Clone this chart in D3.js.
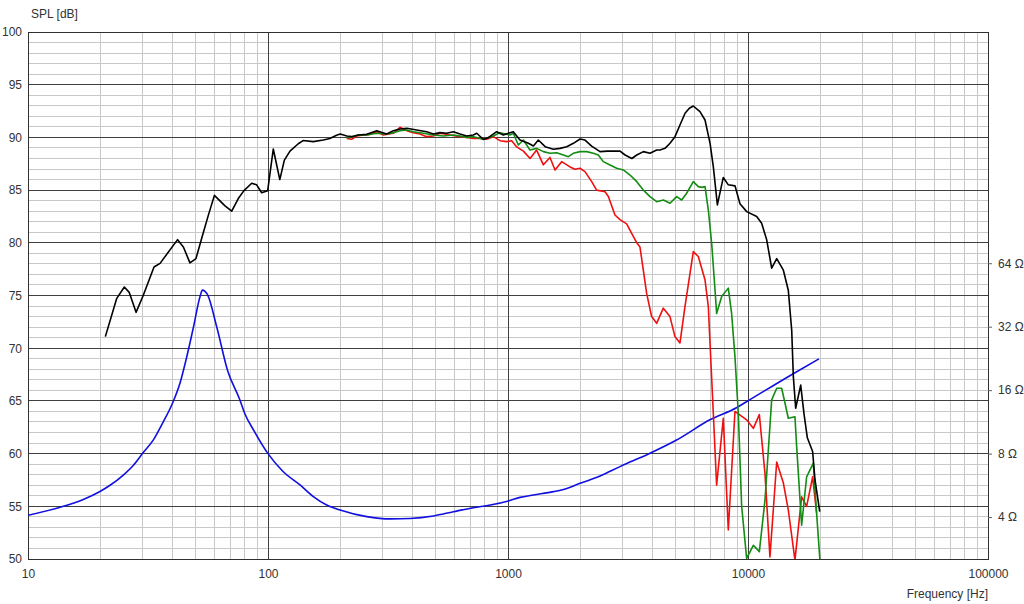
<!DOCTYPE html>
<html><head><meta charset="utf-8">
<script src="https://cdn.jsdelivr.net/npm/d3@7"></script>
<style>
body{margin:0;background:#fff;}
svg text{font-family:"Liberation Sans",Arial,sans-serif;font-size:12px;fill:#333;}
</style>
</head><body>
<svg id="chart" width="1024" height="604"></svg>
<script>
// ---------- data ----------
const splTicks = [50,55,60,65,70,75,80,85,90,95,100];
const freqTicks = [10,100,1000,10000,100000];
const impTicks = [4,8,16,32,64];

const blackFreq = [21,23.4,25.2,26.4,28.2,30.2,33.5,35.5,42,44.4,47.3,50.1,52.9,56.4,59.8,66.2,70.6,75.2,79.4,85.5,89.7,94.1,99.7,105.2,112,117,123.5,133.7,140,154.4,170,181,193,200,213,223,238,258,284,312,333,355,379,416,458,489,521,555,592,631,673,717,741,790,828,897,956,1004,1052,1122,1216,1276,1338,1428,1546,1647,1757,1873,1996,2094,2231,2418,2600,2930,3075,3280,3440,3665,3905,4164,4300,4510,4732,4963,5207,5466,5696,5917,6307,6621,6950,7171,7454,7890,8280,8830,9258,9877,10870,11400,11960,12550,13170,14040,14720,15210,15450,15800,16580,17110,17670,18590,19020,19900];
const blackSPL = [71.1,74.7,75.8,75.3,73.4,75.0,77.7,78.05,80.3,79.6,78.1,78.5,80.4,82.6,84.5,83.5,83.0,84.2,84.95,85.65,85.5,84.75,84.95,88.9,86.0,87.85,88.7,89.4,89.7,89.6,89.75,89.9,90.2,90.32,90.13,90.07,90.23,90.29,90.64,90.32,90.64,90.8,90.86,90.7,90.54,90.32,90.45,90.39,90.54,90.32,90.13,90.23,90.39,89.8,89.98,90.54,90.23,90.39,90.54,89.75,89.44,89.18,89.75,89.12,88.87,88.96,89.12,89.44,89.85,89.75,89.18,88.65,88.7,88.7,88.33,88.0,88.33,88.65,88.5,88.8,88.8,88.96,89.44,90.07,91.18,92.29,92.76,92.98,92.44,91.65,89.44,87.2,83.6,86.2,85.5,85.4,83.7,82.96,82.5,81.85,80.3,77.6,78.5,77.4,75.5,71.7,67.3,64.3,66.5,63.8,61.5,60.2,57.5,54.5];

const redFreq = [212.8,223,234,249.7,266,283.6,302.6,332.6,355,378.5,403,430,458,488.6,521,573.5,631,673,717,765,815,869,926,987,1036,1087,1159,1236,1316,1404,1496,1570,1673,1813,1902,1995,2093,2232,2340,2537,2619,2791,2929,3122,3276,3440,3547,3782,3967,4162,4437,4730,4962,5207,5462,5917,6207,6618,6834,7170,7400,7890,8278,8823,9871,10524,11150,11770,12343,13170,14040,14720,15690,16730,17550,18590,19305];
const redSPL = [89.91,89.82,90.13,90.23,90.29,90.54,90.23,90.39,90.96,90.64,90.45,90.32,90.07,90.13,90.39,90.23,90.07,90.0,89.91,89.91,89.82,90.07,89.69,89.6,89.69,89.1,88.7,88.0,88.8,87.4,88.1,86.9,87.7,87.2,86.97,87.07,86.75,85.8,85.0,84.85,84.4,82.64,82.2,81.8,80.9,80.0,79.6,75.2,73.0,72.36,73.8,73.0,71.1,70.5,73.94,79.16,78.7,76.5,73.94,63.8,57.0,63.35,52.75,64.0,63.2,62.4,63.7,58.1,50.2,59.2,57.2,54.65,49.9,55.9,55.0,57.8,54.4];

const greenFreq = [212.8,223,238,257.8,283.6,312,332.6,355,378.5,403,444,488.6,538,592,631,673,717,790,869,926,1020,1052,1104,1159,1235,1316,1404,1496,1595,1701,1784,1871,1995,2128,2268,2379,2494,2661,2837,3024,3224,3440,3664,3906,4164,4442,4732,5045,5291,5550,5917,6209,6411,6621,6835,7057,7289,7400,7768,8278,8545,8823,9112,9410,9871,10524,11150,11770,12550,13170,13810,14260,14720,15690,15950,16730,17550,18710,19305,19940];
const greenSPL = [89.91,90.07,90.23,90.23,90.39,90.32,90.45,90.64,90.7,90.54,90.39,90.23,90.13,90.23,90.13,90.0,90.07,89.82,90.13,90.45,90.23,90.39,89.28,89.75,88.81,88.96,88.65,88.49,88.55,88.33,88.17,88.49,88.65,88.65,88.49,88.33,87.7,87.38,87.07,86.91,86.43,85.8,85.0,84.38,83.9,84.06,83.75,84.38,84.06,84.7,85.8,85.33,85.26,85.33,83.1,79.95,75.5,73.3,74.9,75.7,73.3,69.2,63.8,55.0,50.06,51.3,50.7,55.6,65.1,66.2,66.2,64.8,63.35,63.5,60.66,53.2,57.8,59.1,54.4,49.9];

const impFreq = [10,13.6,17,19.95,21.97,24.95,27.5,30.2,33.3,36.6,39.7,43,45.9,48.9,52.1,53.3,55.9,61.2,67.8,76.3,80,87.7,100,115.5,136,154.5,175.6,199.6,257.8,323.8,390.8,488.6,592,717,844,1004,1122,1276,1546,1757,1996,2418,2930,3905,5040,6968,8950,9860,15500,19750];
const impOhm = [4.08,4.45,4.85,5.29,5.66,6.33,7.05,8.09,9.29,11.3,13.6,17.3,23.1,31.8,44.5,47.7,45.5,31.8,19.9,14.4,12.4,10.2,8.0,6.58,5.68,5.00,4.56,4.32,4.02,3.92,3.94,4.05,4.24,4.43,4.56,4.77,4.96,5.09,5.28,5.47,5.78,6.26,6.94,8.03,9.28,11.6,13.2,14.1,19.2,22.5];

// ---------- layout ----------
const L = 28, R = 988, T = 32, B = 559;
const svg = d3.select("#chart");

const x = d3.scaleLog().domain([10,100000]).range([L,R]);
const y = d3.scaleLinear().domain([50,100]).range([B,T]);
// impedance axis: 8 ohm at 60 dB, 6.02 dB per doubling
const yImp = d3.scaleLog().domain([8*Math.pow(10,-0.5), 800]).range([B,T]);

svg.append("defs").append("clipPath").attr("id","plot")
  .append("rect").attr("x",L).attr("y",T).attr("width",R-L).attr("height",B-T);

// minor grid
const minorX = x.ticks().filter(v => freqTicks.indexOf(v) < 0);
svg.append("g").selectAll("line").data(minorX).join("line")
  .attr("x1",d=>x(d)).attr("x2",d=>x(d)).attr("y1",T).attr("y2",B)
  .attr("stroke","#c8c8c8").attr("stroke-width",1).attr("shape-rendering","crispEdges");
const minorY = d3.range(50,101,1).filter(v => v%5 !== 0);
svg.append("g").selectAll("line").data(minorY).join("line")
  .attr("x1",L).attr("x2",R).attr("y1",d=>y(d)).attr("y2",d=>y(d))
  .attr("stroke","#c8c8c8").attr("stroke-width",1).attr("shape-rendering","crispEdges");

// major grid
svg.append("g").selectAll("line").data(freqTicks).join("line")
  .attr("x1",d=>x(d)).attr("x2",d=>x(d)).attr("y1",T).attr("y2",B)
  .attr("stroke","#404040").attr("stroke-width",1).attr("shape-rendering","crispEdges");
svg.append("g").selectAll("line").data(splTicks).join("line")
  .attr("x1",L).attr("x2",R).attr("y1",d=>y(d)).attr("y2",d=>y(d))
  .attr("stroke","#404040").attr("stroke-width",1).attr("shape-rendering","crispEdges");

// frame
svg.append("rect").attr("x",L).attr("y",T).attr("width",R-L).attr("height",B-T)
  .attr("fill","none").attr("stroke","#303030").attr("stroke-width",1).attr("shape-rendering","crispEdges");

// axes labels using d3 axes
const yAxis = svg.append("g").attr("transform",`translate(${L},0)`)
  .call(d3.axisLeft(y).tickValues(splTicks).tickSize(0).tickPadding(6).tickFormat(d3.format("d")));
yAxis.select(".domain").remove();

const xAxis = svg.append("g").attr("transform",`translate(0,${B})`)
  .call(d3.axisBottom(x).tickValues(freqTicks).tickSize(0).tickPadding(10).tickFormat(d3.format("d")));
xAxis.select(".domain").remove();

const rAxis = svg.append("g").attr("transform",`translate(${R},0)`)
  .call(d3.axisRight(yImp).tickValues(impTicks).tickSize(4).tickPadding(6).tickFormat(d => d + " Ω"));
rAxis.select(".domain").remove();
rAxis.selectAll("line").attr("stroke","#606060");

svg.selectAll(".tick text").attr("fill","#333").style("font-size","12px")
  .style("font-family",'"Liberation Sans",Arial,sans-serif');

svg.append("text").attr("x",31).attr("y",18).text("SPL [dB]");
svg.append("text").attr("x",988).attr("y",598).attr("text-anchor","end").text("Frequency [Hz]");

// curves
const g = svg.append("g").attr("clip-path","url(#plot)");
const lineSPL = d3.line().x(d=>x(d[0])).y(d=>y(d[1]));
const lineImp = d3.line().x(d=>x(d[0])).y(d=>yImp(d[1])).curve(d3.curveMonotoneX);

g.append("path").datum(d3.zip(impFreq,impOhm)).attr("d",lineImp)
  .attr("fill","none").attr("stroke","#1010e0").attr("stroke-width",1.6);
g.append("path").datum(d3.zip(redFreq,redSPL)).attr("d",lineSPL)
  .attr("fill","none").attr("stroke","#f01010").attr("stroke-width",1.6).attr("stroke-linejoin","round");
g.append("path").datum(d3.zip(greenFreq,greenSPL)).attr("d",lineSPL)
  .attr("fill","none").attr("stroke","#128c12").attr("stroke-width",1.6).attr("stroke-linejoin","round");
g.append("path").datum(d3.zip(blackFreq,blackSPL)).attr("d",lineSPL)
  .attr("fill","none").attr("stroke","#000").attr("stroke-width",1.6).attr("stroke-linejoin","round");
</script>
</body></html>
